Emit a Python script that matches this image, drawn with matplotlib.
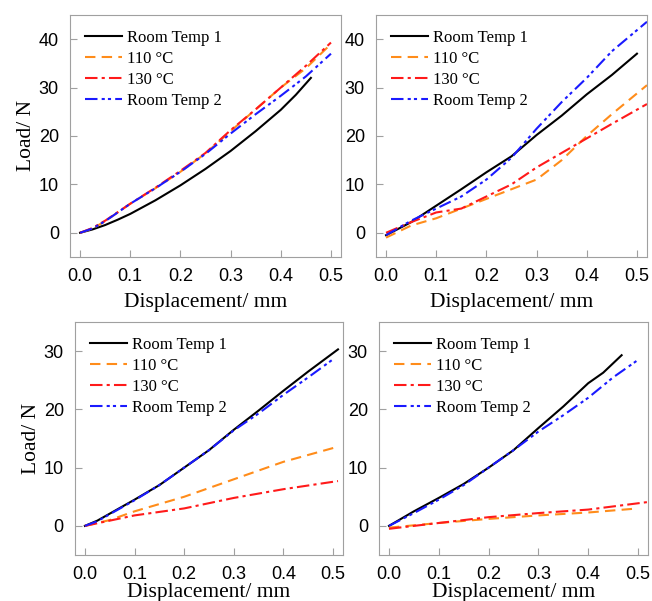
import numpy as np
import matplotlib
matplotlib.use('Agg')
import matplotlib.pyplot as plt

# ---- data ----
labels = ['Room Temp 1', '110 °C', '130 °C', 'Room Temp 2']

# panel a (top left)
a_rt1_x = [0.0, 0.025, 0.05, 0.075, 0.1, 0.15, 0.2, 0.25, 0.3, 0.35, 0.4, 0.43, 0.46]
a_rt1_y = [0.0, 0.7, 1.6, 2.7, 3.9, 6.7, 9.8, 13.2, 16.9, 21.0, 25.4, 28.5, 32.0]
a_110_x = [0.0, 0.025, 0.05, 0.1, 0.15, 0.2, 0.25, 0.3, 0.35, 0.4, 0.45, 0.5]
a_110_y = [0.0, 0.9, 2.4, 6.0, 9.2, 12.6, 16.4, 21.0, 25.5, 30.0, 34.0, 39.0]
a_130_x = [0.0, 0.025, 0.05, 0.1, 0.15, 0.2, 0.25, 0.3, 0.35, 0.4, 0.45, 0.5]
a_130_y = [0.0, 1.0, 2.5, 6.0, 9.3, 12.8, 16.5, 21.2, 25.5, 30.0, 34.5, 39.3]
a_rt2_x = [0.0, 0.025, 0.05, 0.1, 0.15, 0.2, 0.25, 0.3, 0.35, 0.4, 0.45, 0.5]
a_rt2_y = [0.0, 0.9, 2.4, 6.0, 9.2, 12.6, 16.3, 20.5, 24.5, 28.3, 32.3, 37.0]

# panel b (top right)
b_rt1_x = [0.0, 0.05, 0.1, 0.15, 0.2, 0.25, 0.3, 0.35, 0.4, 0.45, 0.5]
b_rt1_y = [-0.5, 2.2, 5.6, 9.0, 12.5, 15.8, 20.2, 24.2, 28.6, 32.6, 37.0]
b_110_x = [0.0, 0.05, 0.1, 0.15, 0.2, 0.25, 0.3, 0.35, 0.4, 0.45, 0.52]
b_110_y = [-1.0, 1.5, 3.0, 5.0, 7.0, 9.0, 11.0, 15.0, 20.0, 24.5, 30.5]
b_130_x = [0.0, 0.05, 0.1, 0.15, 0.2, 0.25, 0.3, 0.35, 0.4, 0.45, 0.52]
b_130_y = [0.0, 2.2, 4.2, 5.0, 7.5, 10.0, 13.5, 16.5, 19.5, 22.5, 26.6]
b_rt2_x = [0.0, 0.05, 0.1, 0.15, 0.2, 0.25, 0.3, 0.35, 0.4, 0.45, 0.52]
b_rt2_y = [-0.5, 2.5, 5.0, 7.5, 11.0, 15.5, 21.5, 27.0, 32.0, 37.5, 43.6]

# panel c (bottom left)
c_rt1_x = [0.0, 0.025, 0.05, 0.1, 0.15, 0.2, 0.25, 0.3, 0.35, 0.4, 0.45, 0.51]
c_rt1_y = [0.0, 0.9, 2.1, 4.5, 7.0, 10.0, 13.0, 16.5, 19.8, 23.2, 26.5, 30.3]
c_110_x = [0.0, 0.05, 0.1, 0.2, 0.3, 0.4, 0.51]
c_110_y = [0.0, 1.0, 2.5, 5.0, 8.0, 11.0, 13.6]
c_130_x = [0.0, 0.05, 0.1, 0.2, 0.3, 0.4, 0.51]
c_130_y = [0.0, 0.9, 1.8, 3.0, 4.8, 6.3, 7.7]
c_rt2_x = [0.0, 0.025, 0.05, 0.1, 0.15, 0.2, 0.25, 0.3, 0.35, 0.4, 0.45, 0.5]
c_rt2_y = [0.0, 0.8, 2.0, 4.4, 7.0, 10.0, 13.0, 16.4, 19.3, 22.5, 25.5, 28.6]

# panel d (bottom right)
d_rt1_x = [0.0, 0.05, 0.1, 0.15, 0.2, 0.25, 0.3, 0.35, 0.4, 0.43, 0.467]
d_rt1_y = [0.0, 2.5, 4.8, 7.2, 10.0, 13.0, 16.8, 20.5, 24.5, 26.3, 29.3]
d_110_x = [0.0, 0.1, 0.2, 0.3, 0.4, 0.5]
d_110_y = [-0.3, 0.5, 1.2, 1.8, 2.3, 3.0]
d_130_x = [0.0, 0.1, 0.2, 0.3, 0.4, 0.52]
d_130_y = [-0.5, 0.5, 1.5, 2.2, 2.8, 4.1]
d_rt2_x = [0.0, 0.05, 0.1, 0.15, 0.2, 0.25, 0.3, 0.35, 0.4, 0.45, 0.5]
d_rt2_y = [0.0, 2.2, 4.5, 7.0, 10.0, 13.0, 16.2, 19.0, 22.0, 25.5, 28.5]

panels = [
    ([a_rt1_x, a_110_x, a_130_x, a_rt2_x], [a_rt1_y, a_110_y, a_130_y, a_rt2_y], (-5, 45), [0, 10, 20, 30, 40]),
    ([b_rt1_x, b_110_x, b_130_x, b_rt2_x], [b_rt1_y, b_110_y, b_130_y, b_rt2_y], (-5, 45), [0, 10, 20, 30, 40]),
    ([c_rt1_x, c_110_x, c_130_x, c_rt2_x], [c_rt1_y, c_110_y, c_130_y, c_rt2_y], (-5, 35), [0, 10, 20, 30]),
    ([d_rt1_x, d_110_x, d_130_x, d_rt2_x], [d_rt1_y, d_110_y, d_130_y, d_rt2_y], (-5, 35), [0, 10, 20, 30]),
]
ylab = [True, False, True, False]
xpad = [6, 6, 0, 0]

colors = ['black', '#ff8c1a', '#ff1a1a', '#1a1aff']
styles = ['-', (0, (5, 3)), (0, (6, 2, 1.5, 2)), (0, (6, 2, 1.5, 1.5, 1.5, 2))]

rects = [
    [0.1074, 0.5724, 0.4156, 0.4027],
    [0.5767, 0.5724, 0.4156, 0.4027],
    [0.1150, 0.0765, 0.4110, 0.3877],
    [0.5813, 0.0765, 0.4126, 0.3877],
]

fig = plt.figure(figsize=(6.52, 6.01), dpi=100)
serif = 'Liberation Serif'
sans = 'Liberation Sans'

for i, (xs, ys, ylim, yt) in enumerate(panels):
    ax = fig.add_axes(rects[i])
    for x, y, c, ls, lab in zip(xs, ys, colors, styles, labels):
        ax.plot(x, y, color=c, linestyle=ls, lw=1.5, label=lab)
    ax.set_xlim(-0.02, 0.52)
    ax.set_ylim(*ylim)
    ax.set_xticks([0.0, 0.1, 0.2, 0.3, 0.4, 0.5])
    ax.set_yticks(yt)
    for s in ax.spines.values():
        s.set_color('#a0a0a0')
    ax.tick_params(direction='in', length=5, color='#a0a0a0', labelsize=13, pad=8)
    for t in ax.get_xticklabels() + ax.get_yticklabels():
        t.set_fontfamily(sans)
    ax.set_xlabel('Displacement/ mm', fontfamily=serif, fontsize=15.5, labelpad=xpad[i])
    if ylab[i]:
        ax.set_ylabel('Load/ N', fontfamily=serif, fontsize=15.5, labelpad=2)
    ax.legend(loc='upper left', frameon=False, prop={'family': serif, 'size': 12},
              handlelength=2.2, handletextpad=0.3, labelspacing=0.3,
              borderaxespad=0.5)

fig.savefig('out.png', dpi=100)
